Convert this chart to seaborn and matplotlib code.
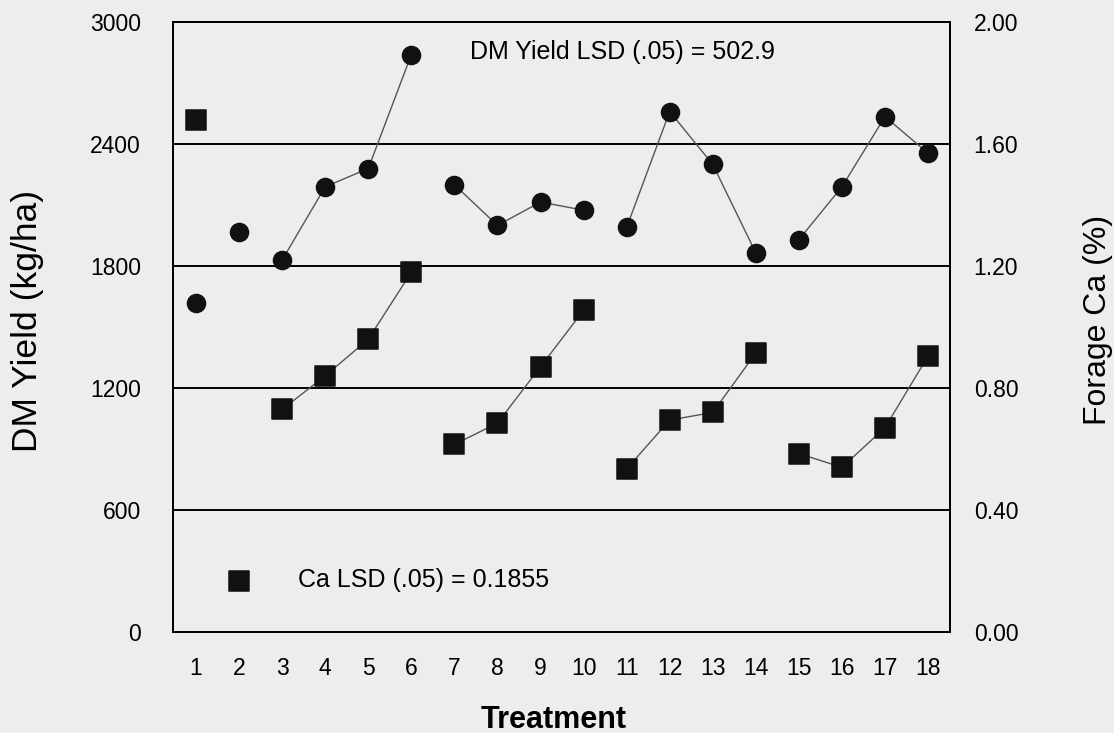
import pandas as pd
import seaborn as sns
import matplotlib.pyplot as plt
from matplotlib.ticker import FormatStrFormatter

# Data
treatment = list(range(1, 19))
dm_yield = [1620, 1970, 1830, 2190, 2280, 2840, 2200, 2000, 2115, 2075,
            1990, 2560, 2300, 1865, 1930, 2190, 2535, 2355]
forage_ca = [1.68, 0.167, 0.73, 0.84, 0.96, 1.18, 0.615, 0.685, 0.87, 1.055,
             0.535, 0.695, 0.72, 0.915, 0.585, 0.54, 0.67, 0.905]
# treatments joined by lines (0 = not joined)
group = [0, 0, 1, 1, 1, 1, 2, 2, 2, 2, 3, 3, 3, 3, 4, 4, 4, 4]

dm_ticks = [0, 600, 1200, 1800, 2400, 3000]
ca_ticks = [0.0, 0.4, 0.8, 1.2, 1.6, 2.0]

df = pd.DataFrame({'treatment': treatment, 'dm': dm_yield, 'ca': forage_ca, 'group': group})
joined = df[df['group'] > 0]

sns.set_style('white')
plt.rcParams['font.family'] = ['Liberation Sans', 'DejaVu Sans']
plt.rcParams['text.color'] = 'black'
plt.rcParams['axes.labelcolor'] = 'black'
plt.rcParams['xtick.color'] = 'black'
plt.rcParams['ytick.color'] = 'black'
bg = '#ededed'

fig = plt.figure(figsize=(11.14, 7.33), dpi=100, facecolor=bg)
ax = fig.add_axes([0.1553, 0.1378, 0.6975, 0.832], facecolor=bg)
ax2 = ax.twinx()

# gridlines
for v in dm_ticks[1:-1]:
    ax.axhline(v, color='black', lw=1.4, zorder=1)

# connecting lines, one per group
for g, sub in joined.groupby('group'):
    sns.lineplot(data=sub, x='treatment', y='dm', ax=ax, color='#555555', lw=1, zorder=2)
    sns.lineplot(data=sub, x='treatment', y='ca', ax=ax2, color='#555555', lw=1, zorder=2)

sns.scatterplot(data=df, x='treatment', y='dm', ax=ax, marker='o', s=170,
                color='#111111', edgecolor='#111111', zorder=3)
sns.scatterplot(data=df, x='treatment', y='ca', ax=ax2, marker='s', s=190,
                color='#111111', edgecolor='#111111', zorder=3)

ax.set_xlim(0.465, 18.51)
ax.set_ylim(0, 3000)
ax2.set_ylim(0, 2.0)
ax.set_xticks(treatment)
ax.set_yticks(dm_ticks)
ax2.set_yticks(ca_ticks)
ax2.yaxis.set_major_formatter(FormatStrFormatter('%.2f'))

ax.tick_params(axis='x', direction='in', length=7, width=1, pad=18, labelsize=16.5)
ax.tick_params(axis='y', length=0, pad=23, labelsize=16.5)
ax2.tick_params(axis='y', length=0, pad=17, labelsize=16.5)

for a in (ax, ax2):
    for sp in a.spines.values():
        sp.set_color('black')
        sp.set_linewidth(1.4)

ax.set_xlabel('Treatment', fontsize=22, fontweight='bold')
ax.set_ylabel('DM Yield (kg/ha)', fontsize=25.5)
ax2.set_ylabel('Forage Ca (%)', fontsize=23, rotation=90)
ax.xaxis.set_label_coords(0.49, -0.12)
ax.yaxis.set_label_coords(-0.166, 0.51)
ax2.yaxis.set_label_coords(1.171, 0.511)

ax.text(7.37, 2853, 'DM Yield LSD (.05) = 502.9', fontsize=18, va='center', ha='left')
ax.text(3.37, 256, 'Ca LSD (.05) = 0.1855', fontsize=18, va='center', ha='left')

fig.savefig('out.png', dpi=100, facecolor=bg)
